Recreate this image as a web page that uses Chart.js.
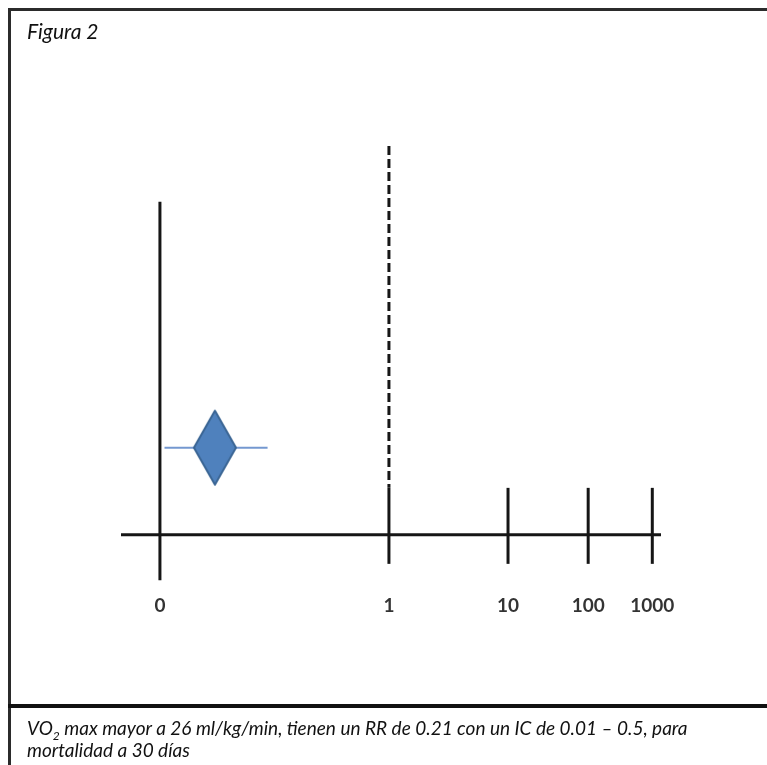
<!DOCTYPE html>
<html>
<head>
<meta charset="utf-8">
<script src="https://cdn.jsdelivr.net/npm/chart.js@4.4.1/dist/chart.umd.min.js"></script>
<style>
  html, body { margin: 0; padding: 0; background: #fff; }
  body { width: 767px; height: 765px; position: relative; overflow: hidden; }
  #chart { position: absolute; left: 0; top: 0; }
  .frame { position: absolute; left: 8px; top: 8px; width: 800px; height: 800px;
           border-top: 3px solid #2b2b2b; border-left: 3px solid #2b2b2b; }
  .divider { position: absolute; left: 8px; top: 704px; width: 800px; border-top: 4px solid #111; }
  .title { position: absolute; left: 27px; top: 18px; font: italic 21px Lato, sans-serif; color: #111; }
  .caption { position: absolute; left: 27px; top: 717px; font: italic 19px Lato, sans-serif;
             line-height: 22px; color: #111; white-space: nowrap; }
</style>
</head>
<body>
<canvas id="chart" width="767" height="700"></canvas>
<div class="frame"></div>
<div class="divider"></div>
<div class="title">Figura 2</div>
<div class="caption">VO<sub style="font-size:12px;line-height:0">2</sub> max mayor a 26 ml/kg/min, tienen un RR de 0.21 con un IC de 0.01 – 0.5, para<br>mortalidad a 30 días</div>
<script>
// axis of the forest plot (0 and 1 linear, then compressed)
var tickLabels = ['0', '1', '10', '100', '1000'];
var axisPos = [0, 1, 1.52, 1.87, 2.15];

// study estimate
var riskRatio = [0.24];
var ciLow = [0.02];
var ciHigh = [0.47];
var studyRow = [1];

var lineColor = '#161616';

// diamond marker (taller than wide)
function makeDiamond(w, h) {
    var c = document.createElement('canvas');
    c.width = w + 4;
    c.height = h + 4;
    var g = c.getContext('2d');
    g.beginPath();
    g.moveTo(c.width / 2, 2);
    g.lineTo(c.width - 2, c.height / 2);
    g.lineTo(c.width / 2, c.height - 2);
    g.lineTo(2, c.height / 2);
    g.closePath();
    g.fillStyle = '#4f81bd';
    g.fill();
    g.lineWidth = 2;
    g.lineJoin = 'round';
    g.strokeStyle = '#3a6594';
    g.stroke();
    return c;
}

var axisLines = {
    id: 'axisLines',
    beforeDatasetsDraw: function (chart) {
        var ctx = chart.ctx, area = chart.chartArea;
        var xs = chart.scales.x, ys = chart.scales.y;
        var y0 = ys.getPixelForValue(0);
        ctx.save();
        ctx.strokeStyle = lineColor;
        ctx.lineWidth = 3;
        ctx.lineCap = 'butt';

        // horizontal axis
        ctx.beginPath();
        ctx.moveTo(area.left, y0);
        ctx.lineTo(area.right, y0);
        ctx.stroke();

        // zero line
        var xz = xs.getPixelForValue(axisPos[0]);
        ctx.beginPath();
        ctx.moveTo(xz, y0 - 333);
        ctx.lineTo(xz, area.bottom);
        ctx.stroke();

        // ticks at 1, 10, 100, 1000
        for (var i = 1; i < axisPos.length; i++) {
            var xp = xs.getPixelForValue(axisPos[i]);
            ctx.beginPath();
            ctx.moveTo(xp, y0 - 47);
            ctx.lineTo(xp, y0 + 29);
            ctx.stroke();
        }

        // line of no effect (dashed)
        var x1 = xs.getPixelForValue(axisPos[1]);
        ctx.setLineDash([9, 4]);
        ctx.beginPath();
        ctx.moveTo(x1, area.top);
        ctx.lineTo(x1, y0 - 47);
        ctx.stroke();
        ctx.restore();
    }
};

var ctx = document.getElementById('chart').getContext('2d');
var myChart = new Chart(ctx, {
    type: 'scatter',
    data: {
        datasets: [{
            data: [{ x: ciLow[0], y: studyRow[0] }, { x: ciHigh[0], y: studyRow[0] }],
            showLine: true,
            borderColor: '#7498d0',
            borderWidth: 2,
            pointRadius: 0,
            order: 2,
        }, {
            data: riskRatio.map(function (v, i) { return { x: v, y: studyRow[i] }; }),
            pointStyle: makeDiamond(42, 74),
            pointRadius: 20,
            order: 1,
        }],
    },
    options: {
        responsive: false,
        animation: false,
        events: [],
        layout: { padding: { left: 121, right: 106, top: 146, bottom: 77 } },
        plugins: { legend: { display: false }, tooltip: { enabled: false } },
        scales: {
            x: {
                type: 'linear',
                min: -0.17,
                max: 2.188,
                grid: { display: false },
                border: { display: false },
                afterBuildTicks: function (scale) {
                    scale.ticks = axisPos.map(function (p) { return { value: p }; });
                },
                ticks: {
                    autoSkip: false,
                    maxRotation: 0,
                    padding: 6,
                    color: '#333',
                    font: { family: 'Lato', size: 19, weight: 'bold' },
                    callback: function (value, index) { return tickLabels[index]; },
                },
            },
            y: {
                display: false,
                min: -0.52,
                max: 4.46,
            },
        },
    },
    plugins: [axisLines],
});
</script>
</body>
</html>
